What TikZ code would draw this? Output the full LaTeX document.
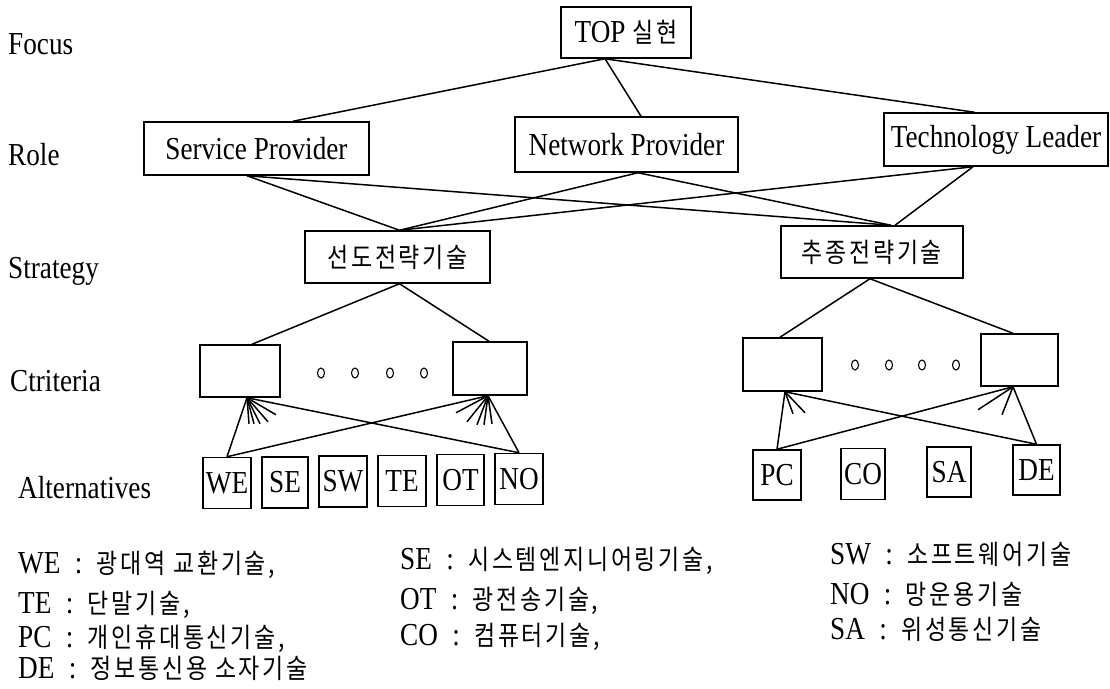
\documentclass[tikz,border=0pt]{standalone}
\usepackage{fontspec}
\setmainfont{Liberation Serif}[FakeStretch=0.85]
\newfontfamily\kr{Noto Sans CJK KR}[FakeStretch=0.85, LetterSpace=10]
\newcommand{\ko}[1]{{\kr\fontsize{27}{31}\selectfont #1}}
\newcommand{\sepc}{\hspace{0.45em}:\hspace{0.45em}}
\begin{document}
\begin{tikzpicture}[x=1pt,y=-1pt,
  box/.style={draw, line width=1.5pt, inner sep=0pt, font=\fontsize{32}{36}\selectfont},
  abox/.style={box, minimum height=51pt},
  lnk/.style={line width=1.5pt},
  lbl/.style={anchor=base west, inner sep=0pt, font=\fontsize{32}{36}\selectfont},
  dotc/.style={line width=1.1pt}]
\useasboundingbox (0,0) rectangle (1110,688);

% level labels
\node[lbl] (lfocus) at (8,54) {Focus};
\node[lbl] (lrole) at (8,165) {Role};
\node[lbl] (lstrat) at (8,278) {Strategy};
\node[lbl] (lcrit) at (10,391) {Ctriteria};
\node[lbl] (lalt) at (18,498) {Alternatives};

% focus / role / strategy
\node[box, minimum width=130pt, minimum height=51pt] (top) at (626,32.5) {TOP \ko{실현}};
\node[box, minimum width=225pt, minimum height=53pt] (sp) at (256.5,148.5) {Service Provider};
\node[box, minimum width=223pt, minimum height=55pt] (np) at (626.5,144.5) {Network Provider};
\node[box, minimum width=224pt, minimum height=53pt] (tl) at (996,139.5) {Technology Leader};
\node[box, minimum width=185pt, minimum height=52pt] (s1) at (397.5,257) {\ko{선도전략기술}};
\node[box, minimum width=182pt, minimum height=52pt] (s2) at (872,252) {\ko{추종전략기술}};

% criteria
\node[box, minimum width=80pt, minimum height=52pt] (l1) at (240,371) {};
\node[box, minimum width=74pt, minimum height=53pt] (l2) at (490,368.5) {};
\node[box, minimum width=79pt, minimum height=53pt] (r1) at (782.5,364.5) {};
\node[box, minimum width=77pt, minimum height=52pt] (r2) at (1019.5,360) {};

% alternatives
\node[abox, minimum width=48pt] (we) at (227,483) {WE};
\node[abox, minimum width=46pt] (se) at (285,482.5) {SE};
\node[abox, minimum width=48pt] (sw) at (343,481.5) {SW};
\node[abox, minimum width=48pt] (te) at (402,481) {TE};
\node[abox, minimum width=47pt] (ot) at (460.5,480) {OT};
\node[abox, minimum width=48pt] (no) at (519,479) {NO};
\node[abox, minimum width=48pt, minimum height=50pt] (pc) at (777,475) {PC};
\node[abox, minimum width=44pt] (co) at (863,474) {CO};
\node[abox, minimum width=44pt, minimum height=50pt] (sa) at (949,472) {SA};
\node[abox, minimum width=47pt, minimum height=50pt] (de) at (1036.5,470) {DE};

% dots
\foreach \xx in {321,355,390,424} \draw[dotc] (\xx,373) ellipse [x radius=3.5pt, y radius=5pt];
\foreach \xx in {855,889,922,956} \draw[dotc] (\xx,365) ellipse [x radius=3.5pt, y radius=5pt];

% focus -> role
\draw[lnk] ([xshift=-21pt]top.south) -- ([xshift=36.5pt]sp.north);
\draw[lnk] ([xshift=-21pt]top.south) -- ([xshift=14.5pt]np.north);
\draw[lnk] ([xshift=-21pt]top.south) -- ([xshift=-21.5pt]tl.north);

% role -> strategy
\draw[lnk] ([xshift=-9.5pt]sp.south) -- ([xshift=2pt]s1.north);
\draw[lnk] ([xshift=-9.5pt]sp.south) -- ([xshift=19pt]s2.north);
\draw[lnk] ([xshift=11.5pt]np.south) -- ([xshift=2pt]s1.north);
\draw[lnk] ([xshift=11.5pt]np.south) -- ([xshift=19pt]s2.north);
\draw[lnk] ([xshift=-23pt]tl.south) -- ([xshift=2pt]s1.north);
\draw[lnk] ([xshift=-23pt]tl.south) -- ([xshift=23pt]s2.north);

% strategy -> criteria
\draw[lnk] ([xshift=2pt]s1.south) -- ([xshift=12pt]l1.north);
\draw[lnk] ([xshift=2pt]s1.south) -- ([xshift=-1pt]l2.north);
\draw[lnk] ([xshift=-2pt]s2.south) -- ([xshift=-2.5pt]r1.north);
\draw[lnk] ([xshift=-2pt]s2.south) -- ([xshift=-6.5pt]r2.north);

% criteria <- alternatives
\draw[lnk] ([xshift=7pt]l1.south) -- (we.north);
\draw[lnk] ([xshift=7pt]l1.south) -- (no.north);
\draw[lnk] ([xshift=-2pt]l2.south) -- (we.north);
\draw[lnk] ([xshift=-2pt]l2.south) -- (no.north);
\foreach \dx/\dy in {2/26,7/26,13/26,21/24,29/17}
  \draw[lnk] ([xshift=7pt]l1.south) -- ++(\dx,\dy);
\foreach \dx/\dy in {-32/17,-21/26,-11/29,-4/29,4/28}
  \draw[lnk] ([xshift=-2pt]l2.south) -- ++(\dx,\dy);

\draw[lnk] ([xshift=2.5pt]r1.south) -- (pc.north);
\draw[lnk] ([xshift=2.5pt]r1.south) -- (de.north);
\draw[lnk] ([xshift=-6.5pt]r2.south) -- (pc.north);
\draw[lnk] ([xshift=-6.5pt]r2.south) -- (de.north);
\foreach \dx/\dy in {8/22,20/21}
  \draw[lnk] ([xshift=2.5pt]r1.south) -- ++(\dx,\dy);
\foreach \dx/\dy in {-35/23,-11/28}
  \draw[lnk] ([xshift=-6.5pt]r2.south) -- ++(\dx,\dy);

% legend
\node[lbl] (g1) at (18,573) {WE\sepc\ko{광대역 교환기술,}};
\node[lbl] (g2) at (18,613) {TE\sepc\ko{단말기술,}};
\node[lbl] (g3) at (18,647) {PC\sepc\ko{개인휴대통신기술,}};
\node[lbl] (g4) at (18,678) {DE\sepc\ko{정보통신용 소자기술}};
\node[lbl] (g5) at (400,569) {SE\sepc\ko{시스템엔지니어링기술,}};
\node[lbl] (g6) at (400,609) {OT\sepc\ko{광전송기술,}};
\node[lbl] (g7) at (400,645) {CO\sepc\ko{컴퓨터기술,}};
\node[lbl] (g8) at (830,564) {SW\sepc\ko{소프트웨어기술}};
\node[lbl] (g9) at (830,604) {NO\sepc\ko{망운용기술}};
\node[lbl] (g10) at (830,639) {SA\sepc\ko{위성통신기술}};
\end{tikzpicture}
\end{document}
